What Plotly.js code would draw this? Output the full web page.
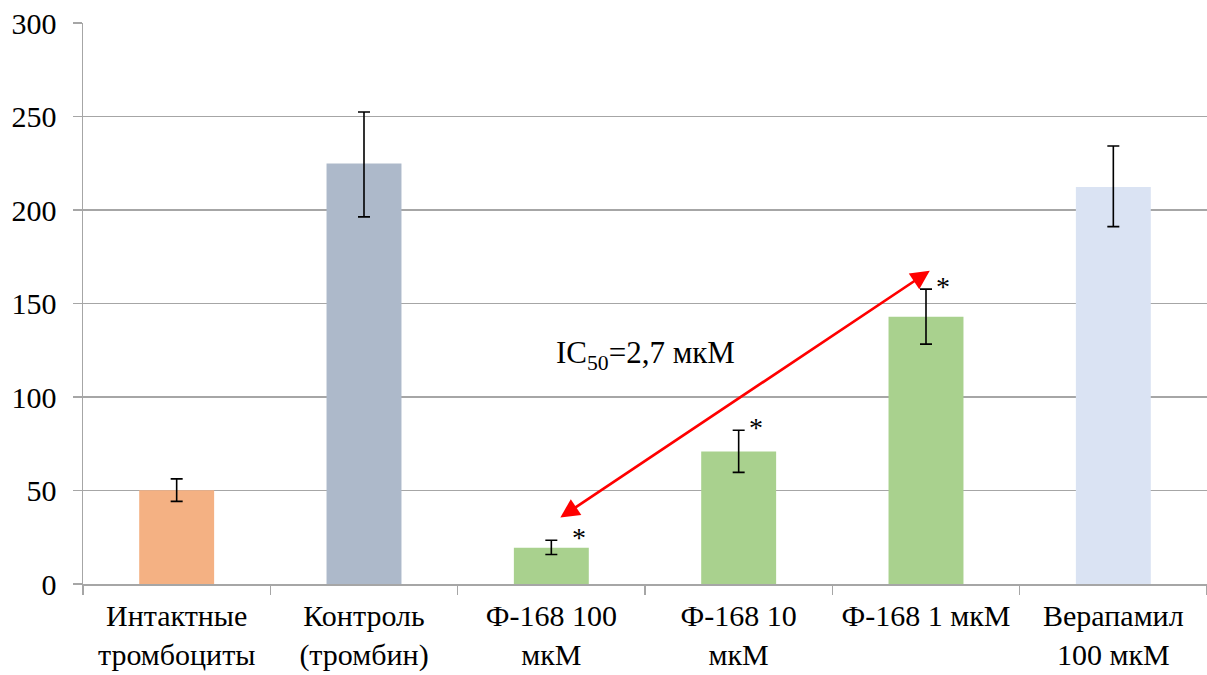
<!DOCTYPE html>
<html>
<head>
<meta charset="utf-8">
<script src="https://cdn.plot.ly/plotly-3.0.1.min.js"></script>
<style>html,body{margin:0;padding:0;background:#fff;overflow:hidden}</style>
</head>
<body>
<div id="chart" style="width:1207px;height:675px"></div>
<script>
const categories = ["Интактные<br>тромбоциты", "Контроль<br>(тромбин)", "Ф-168 100<br>мкМ", "Ф-168 10<br>мкМ", "Ф-168 1 мкМ", "Верапамил<br>100 мкМ"];
const values = [50.1, 224.9, 19.4, 70.8, 142.9, 212.3];
const errPlus = [6.1, 27.5, 4.0, 11.4, 14.8, 21.9];
const errMinus = [5.9, 28.6, 3.6, 11.1, 14.6, 21.2];
const colors = ["#F4B183", "#ADB9CA", "#A9D18E", "#A9D18E", "#A9D18E", "#DAE3F3"];
const starIdx = [2, 3, 4];
const starShift = [28, 17, 17];
const icText = "IC<sub>50</sub>=2,7 мкМ";
const arrowFrom = {idx: 2.04, val: 35};
const arrowTo = {idx: 4.02, val: 167.5};

const font = "Liberation Serif";

const trace = {
  type: "bar",
  x: categories,
  y: values,
  width: 0.4,
  marker: {color: colors, line: {width: 0}},
  error_y: {
    type: "data", symmetric: false,
    array: errPlus, arrayminus: errMinus,
    color: "#000", thickness: 1.6, width: 6
  },
  hoverinfo: "none"
};

const annotations = starIdx.map((i, k) => ({
  x: i, y: values[i] + errPlus[i], xref: "x", yref: "y",
  text: "*", showarrow: false, xshift: starShift[k], yshift: 3,
  font: {family: font, size: 28, color: "#000"}
}));
annotations.push({
  x: 2.505, y: 122.6, xref: "x", yref: "y", text: icText, showarrow: false,
  font: {family: font, size: 31, color: "#000"}
});
annotations.push({
  x: arrowTo.idx, y: arrowTo.val, ax: arrowFrom.idx, ay: arrowFrom.val,
  xref: "x", yref: "y", axref: "x", ayref: "y",
  text: "", showarrow: true, arrowside: "end+start",
  arrowhead: 2, arrowsize: 1.4, arrowwidth: 2.7, arrowcolor: "#FF0000"
});

const layout = {
  width: 1207, height: 675,
  margin: {l: 83, r: 0, t: 23, b: 91},
  paper_bgcolor: "#fff", plot_bgcolor: "#fff",
  showlegend: false,
  font: {family: font, color: "#000"},
  xaxis: {
    type: "category", range: [-0.5, 5.5],
    tickson: "boundaries", ticks: "outside", ticklen: 9, tickcolor: "#a6a6a6", tickwidth: 1.5,
    ticklabelstandoff: 4,
    showline: true, linecolor: "#a6a6a6", linewidth: 1.5,
    showgrid: false,
    tickfont: {family: font, size: 30, color: "#000"}
  },
  yaxis: {
    range: [0, 300], dtick: 50,
    ticks: "outside", ticklen: 9, tickcolor: "#a6a6a6", tickwidth: 1.5,
    ticklabelstandoff: 10,
    showline: true, linecolor: "#a6a6a6", linewidth: 1.5,
    showgrid: true, gridcolor: "#a6a6a6", gridwidth: 1.5,
    zeroline: false,
    tickfont: {family: font, size: 30, color: "#000"}
  },
  annotations: annotations
};

Plotly.newPlot("chart", [trace], layout, {displayModeBar: false, staticPlot: true});
</script>
</body>
</html>
